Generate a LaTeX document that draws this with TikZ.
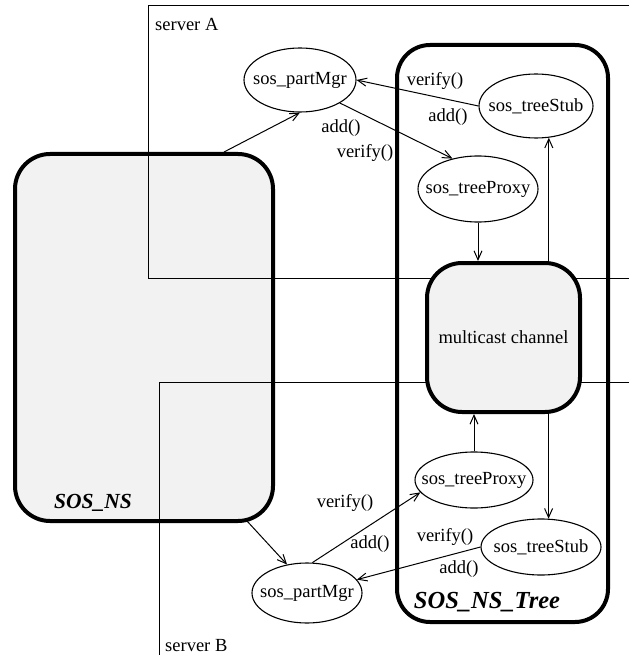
\documentclass[tikz,border=0pt]{standalone}
\usepackage{fontspec}
\setmainfont{Liberation Serif}
\usetikzlibrary{shapes.geometric,arrows.meta}
\begin{document}
\begin{tikzpicture}[x=1pt,y=-1pt,
  every node/.style={font=\fontsize{18.5}{22}\selectfont},
  ell/.style={ellipse,draw,line width=1.1pt,fill=white,inner sep=0pt},
  bigbox/.style={rectangle,draw,line width=4pt,rounded corners=35pt,inner sep=0pt},
  arr/.style={line width=1pt,-{Straight Barb[length=9pt,width=8pt]}},
  srv/.style={line width=1pt},
  lbl/.style={inner sep=0pt},
  bigtitle/.style={inner sep=0pt,font=\fontsize{21.5}{24}\selectfont\bfseries\itshape}]
\useasboundingbox (0,0) rectangle (629,655);
% SOS_NS box
\node[bigbox, fill=black!5, minimum width=258pt, minimum height=367pt] (ns) at (144,337.5) {};
% server areas
\draw[srv] (629,6) -- (148,6) -- (148,278) -- (629,278);
\draw[srv] (629,382) -- (159,382) -- (159,655);
\node[lbl,anchor=west] (sa) at (155,24) {server A};
\node[lbl,anchor=west] (sb) at (165,646) {server B};
% SOS_NS_Tree box
\node[bigbox, rounded corners=33pt, minimum width=211pt, minimum height=577pt] (tree) at (502.5,333.5) {};
% multicast channel
\node[bigbox, fill=black!5, minimum width=153pt, minimum height=149pt] (mc) at (503.5,337.5) {multicast channel};
\node[bigtitle] (nslbl) at (93,503) {SOS\_NS};
\node[bigtitle, font=\fontsize{24.5}{28}\selectfont\bfseries\itshape] (treelbl) at (487,602) {SOS\_NS\_Tree};
% ellipses
\node[ell, minimum width=112pt, minimum height=64pt] (pm1) at (300,80) {\makebox[0pt]{sos\_partMgr}};
\node[ell, minimum width=114pt, minimum height=64pt] (ts1) at (536,106) {\makebox[0pt]{sos\_treeStub}};
\node[ell, minimum width=120pt, minimum height=66pt] (tp1) at (478,189) {\makebox[0pt]{sos\_treeProxy}};
\node[ell, minimum width=118pt, minimum height=56pt] (tp2) at (474,480) {\makebox[0pt]{sos\_treeProxy}};
\node[ell, minimum width=120pt, minimum height=56pt] (ts2) at (541,547) {\makebox[0pt]{sos\_treeStub}};
\node[ell, minimum width=110pt, minimum height=60pt] (pm2) at (307,593) {\makebox[0pt]{sos\_partMgr}};
% arrows server A
\draw[arr] ([xshift=-51pt]ns.north east) -- (pm1.south);
\draw[arr] (pm1.-30) -- (tp1.130);
\draw[arr] (ts1.west) -- (pm1.east);
\draw[arr] (tp1.south) -- (tp1.south |- mc.north);
\draw[arr] (mc.north -| ts1.-68) -- (ts1.-68);
% arrows server B
\draw[arr] (tp2.north) -- (tp2.north |- mc.south);
\draw[arr] (mc.south -| ts2.75) -- (ts2.75);
\draw[arr] ([xshift=-28pt,yshift=2pt]ns.south east) -- (pm2.125);
\draw[arr] (pm2.80) -- (tp2.193);
\draw[arr] (ts2.west) -- (pm2.15);
% labels
\node[lbl] (l1) at (435,81) {verify()};
\node[lbl] (l2) at (448,117) {add()};
\node[lbl] (l3) at (341,128) {add()};
\node[lbl] (l4) at (365,153) {verify()};
\node[lbl] (l5) at (345,503) {verify()};
\node[lbl] (l6) at (370,544) {add()};
\node[lbl] (l7) at (445,537) {verify()};
\node[lbl] (l8) at (459,569) {add()};
\end{tikzpicture}
\end{document}
